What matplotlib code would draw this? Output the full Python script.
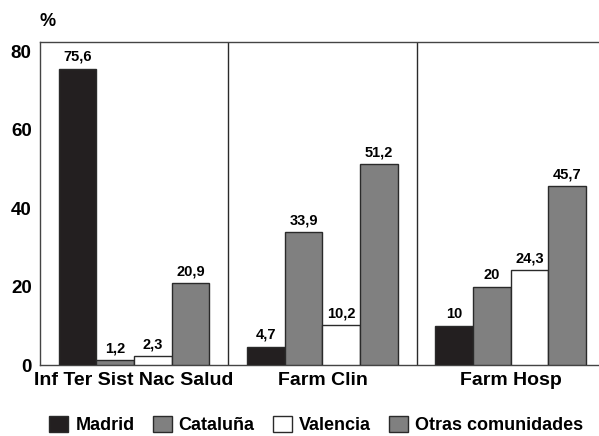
import numpy as np
import matplotlib.pyplot as plt
from matplotlib.patches import Patch

plt.rcParams['font.family'] = ['Liberation Sans', 'DejaVu Sans']
plt.rcParams['font.weight'] = 'bold'

# Porcentajes por categoría y comunidad
categorias = ['Inf Ter Sist Nac Salud', 'Farm Clin', 'Farm Hosp']
series = ['Madrid', 'Cataluña', 'Valencia', 'Otras comunidades']
madrid = [75.6, 4.7, 10]
cataluna = [1.2, 33.9, 20]
valencia = [2.3, 10.2, 24.3]
otras = [20.9, 51.2, 45.7]
etiquetas = [['75,6', '4,7', '10'],
             ['1,2', '33,9', '20'],
             ['2,3', '10,2', '24,3'],
             ['20,9', '51,2', '45,7']]

colores = ['#231f20', '#808080', '#ffffff', '#808080']
borde = '#2a2a2a'

fig = plt.figure(figsize=(5.99, 4.36), dpi=100)
ax = fig.add_axes([40 / 599, 1 - 365 / 436, 1 - 40 / 599, (365 - 42) / 436])

x = np.arange(len(categorias)) + 0.5
ancho = 0.2
for i, (vals, col) in enumerate(zip([madrid, cataluna, valencia, otras], colores)):
    pos = x + (i - 1.5) * ancho
    ax.bar(pos, vals, width=ancho, color=col, edgecolor=borde, linewidth=1, zorder=3)
    for p, v, t in zip(pos, vals, etiquetas[i]):
        ax.text(p, v + 1.2, t, ha='center', va='bottom', fontsize=10.5, fontweight='bold')

ax.set_xlim(0, (599 - 40) / 188.3)
ax.set_ylim(0, 82.4)
for sep in [1, 2]:
    ax.axvline(sep, color=borde, linewidth=1)

ax.set_yticks([0, 20, 40, 60, 80])
ax.set_yticklabels(['0', '20', '40', '60', '80'], fontsize=13.5, fontweight='bold')
ax.set_xticks(x)
ax.set_xticklabels(categorias, fontsize=14, fontweight='bold')
ax.tick_params(axis='x', length=0, pad=5)
ax.tick_params(axis='y', length=0, pad=6)

ax.spines['right'].set_visible(False)
for s in ['left', 'top', 'bottom']:
    ax.spines[s].set_color('#444444')
    ax.spines[s].set_linewidth(1)

fig.text(40 / 599, 1 - 22 / 436, '%', fontsize=13, fontweight='bold', va='center')

handles = [Patch(facecolor=c, edgecolor=borde, linewidth=1) for c in colores]
fig.legend(handles, series, loc='center', bbox_to_anchor=(0.528, 1 - 425 / 436),
           ncol=4, frameon=False, handlelength=1.05, handleheight=1.05,
           handletextpad=0.4, columnspacing=1.0, prop={'weight': 'bold', 'size': 13})

fig.savefig('out.png', dpi=100)
